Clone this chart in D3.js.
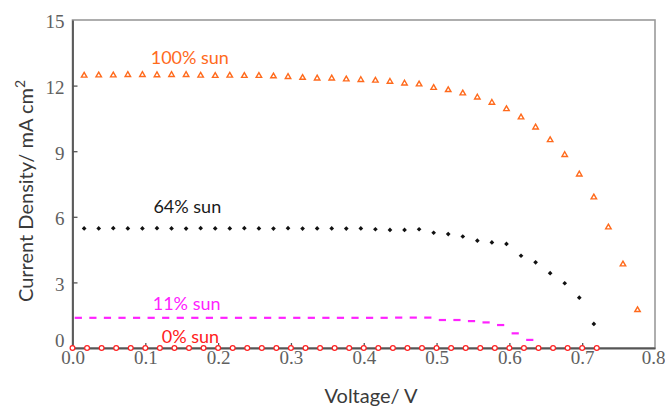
<!DOCTYPE html>
<html>
<head>
<meta charset="utf-8">
<script src="https://cdn.jsdelivr.net/npm/d3@7"></script>
<style>
  html, body { margin: 0; padding: 0; background: #fff; }
  svg { display: block; }
</style>
</head>
<body>
<svg id="chart" width="665" height="406"></svg>
<script>
// J–V curves of the cell under different illumination levels
const v100 = d3.range(39).map(k => +(0.016 + 0.02 * k).toFixed(3));
const j100 = [12.46, 12.47, 12.47, 12.49, 12.49, 12.48, 12.49, 12.49, 12.46, 12.45,
              12.46, 12.45, 12.45, 12.43, 12.40, 12.36, 12.33, 12.33, 12.29, 12.26,
              12.23, 12.18, 12.10, 12.06, 11.90, 11.80, 11.65, 11.46, 11.22, 10.93,
              10.55, 10.09, 9.51, 8.83, 7.94, 6.89, 5.52, 3.83, 1.74];

const v64 = d3.range(36).map(k => +(0.016 + 0.02 * k).toFixed(3));
const j64 = [5.47, 5.47, 5.48, 5.47, 5.47, 5.48, 5.47, 5.46, 5.48, 5.47,
             5.47, 5.48, 5.47, 5.46, 5.48, 5.46, 5.47, 5.47, 5.46, 5.47,
             5.43, 5.40, 5.40, 5.43, 5.27, 5.21, 5.10, 4.91, 4.83, 4.76,
             4.22, 3.92, 3.42, 2.96, 2.30, 1.10];

const v11 = d3.range(32).map(k => +(0.008 + 0.02 * k).toFixed(3));
const j11 = [1.38, 1.38, 1.38, 1.38, 1.38, 1.38, 1.38, 1.38, 1.38, 1.38,
             1.38, 1.38, 1.38, 1.38, 1.38, 1.38, 1.38, 1.38, 1.38, 1.38,
             1.38, 1.38, 1.39, 1.39, 1.39, 1.28, 1.28, 1.23, 1.17, 1.05,
             0.67, 0.37];

const v0 = d3.range(37).map(k => +(0.02 * k).toFixed(2));
const j0 = v0.map(() => 0);

const xTicks = [0, 0.1, 0.2, 0.3, 0.4, 0.5, 0.6, 0.7, 0.8];
const yTicks = [0, 3, 6, 9, 12, 15];

const seriesNames = ["100% sun", "64% sun", "11% sun", "0% sun"];
// label anchors in data units (voltage, current density)
const labelV = [0.1074, 0.1111, 0.1102, 0.1225];
const labelJ = [12.99, 6.17, 1.74, 0.23];

const svg = d3.select("#chart");
const x = d3.scaleLinear().domain([0, 0.8]).range([72.5, 655]);
const y = d3.scaleLinear().domain([0, 15]).range([348, 20]);

const colors = { s100: "#ff6a1c", s64: "#111111", s11: "#ff22ff", s0: "#ff2020" };

// plot frame
svg.append("rect")
  .attr("x", x(0)).attr("y", y(15))
  .attr("width", x(0.8) - x(0)).attr("height", y(0) - y(15))
  .attr("fill", "none").attr("stroke", "#9a9a9a").attr("stroke-width", 1.6);

// axes
const xAxis = d3.axisBottom(x).tickValues(xTicks).tickFormat(d3.format(".1f"))
  .tickSizeInner(-5).tickSizeOuter(0).tickPadding(2.5);
const yAxis = d3.axisLeft(y).tickValues(yTicks).tickFormat(d3.format("d"))
  .tickSizeInner(-5).tickSizeOuter(0).tickPadding(8);

const gx = svg.append("g").attr("transform", `translate(0,${y(0)})`).call(xAxis);
const gy = svg.append("g").attr("transform", `translate(${x(0)},0)`).call(yAxis);

[gx, gy].forEach(g => {
  g.select(".domain").attr("stroke", "#555").attr("stroke-width", 1.8);
  g.selectAll(".tick line").attr("stroke", "#555").attr("stroke-width", 1.3);
  g.selectAll(".tick text")
    .attr("fill", "#606060")
    .style("font-family", "'Liberation Serif', 'DejaVu Serif', serif")
    .style("font-size", "19px");
});
gx.selectAll(".tick line").filter(d => d === 0 || d === 0.8).remove();
gx.selectAll(".tick text").filter(d => d === 0.8).attr("dx", "-2");
gy.selectAll(".tick line").filter(d => d === 0 || d === 15).remove();
gy.selectAll(".tick text").attr("dy", d => d === 0 ? "-0.08em" : "0.42em");

// axis titles
svg.append("text")
  .attr("x", 371).attr("y", 402.5)
  .attr("text-anchor", "middle")
  .attr("fill", "#3a3a3a")
  .style("font-family", "Lato, 'Open Sans', sans-serif")
  .style("font-size", "20px")
  .text("Voltage/ V");

const yTitle = svg.append("text")
  .attr("transform", "translate(33,191) rotate(-90)")
  .attr("text-anchor", "middle")
  .attr("fill", "#3a3a3a")
  .style("font-family", "Lato, 'Open Sans', sans-serif")
  .style("font-size", "20px");
yTitle.append("tspan").text("Current Density/ mA cm");
yTitle.append("tspan").attr("dy", "-0.6em").style("font-size", "14px").text("2");

// 0% sun: open circles
svg.append("g").selectAll("circle")
  .data(v0.map((v, i) => [v, j0[i]]))
  .join("circle")
  .attr("cx", d => x(d[0])).attr("cy", d => y(d[1]))
  .attr("r", 2.4)
  .attr("fill", "#fff").attr("stroke", colors.s0).attr("stroke-width", 1.2);

// 11% sun: short dash markers
svg.append("g").selectAll("line")
  .data(v11.map((v, i) => [v, j11[i]]))
  .join("line")
  .attr("x1", d => x(d[0]) - 3.6).attr("x2", d => x(d[0]) + 3.6)
  .attr("y1", d => y(d[1])).attr("y2", d => y(d[1]))
  .attr("stroke", colors.s11).attr("stroke-width", 2.2);

// 64% sun: filled diamonds (square turned 45°)
svg.append("g").selectAll("path")
  .data(v64.map((v, i) => [v, j64[i]]))
  .join("path")
  .attr("transform", d => `translate(${x(d[0])},${y(d[1])}) rotate(45)`)
  .attr("d", d3.symbol(d3.symbolSquare, 11))
  .attr("fill", colors.s64);

// 100% sun: open triangles
svg.append("g").selectAll("path")
  .data(v100.map((v, i) => [v, j100[i]]))
  .join("path")
  .attr("transform", d => `translate(${x(d[0])},${y(d[1])})`)
  .attr("d", d3.symbol(d3.symbolTriangle, 13))
  .attr("fill", "#fff").attr("stroke", colors.s100).attr("stroke-width", 1.4);

// series labels
const labelColors = [colors.s100, "#1a1a1a", colors.s11, colors.s0];
svg.append("g").selectAll("text")
  .data(seriesNames.map((n, i) => ({ n, v: labelV[i], j: labelJ[i], c: labelColors[i] })))
  .join("text")
  .attr("x", d => x(d.v)).attr("y", d => y(d.j))
  .attr("fill", d => d.c)
  .style("font-family", "Lato, 'Open Sans', sans-serif")
  .style("font-size", "18px")
  .text(d => d.n);
</script>
</body>
</html>
